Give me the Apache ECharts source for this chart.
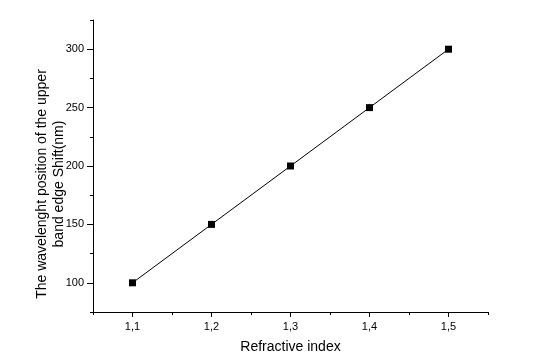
<!DOCTYPE html>
<html>
<head>
<meta charset="utf-8">
<script src="https://cdn.jsdelivr.net/npm/echarts@6/dist/echarts.min.js"></script>
<style>
html,body{margin:0;padding:0;background:#fff;}
#c{width:544px;height:360px;}
</style>
</head>
<body>
<div id="c"></div>
<script>
var refractiveIndex = [1.1, 1.2, 1.3, 1.4, 1.5];
var bandEdgeShift = [100, 150, 200, 250, 300];
var xMajorTicks = [1.1, 1.2, 1.3, 1.4, 1.5];
var xMinorTicks = [1.05, 1.15, 1.25, 1.35, 1.45, 1.55];
var yMajorTicks = [100, 150, 200, 250, 300];
var yMinorTicks = [75, 125, 175, 225, 275, 325];
var xTitle = 'Refractive index';
var yTitle = 'The wavelenght position of the upper\nband edge Shift(nm)';

var font = '"Liberation Sans", Arial, sans-serif';
var chart = echarts.init(document.getElementById('c'), null, {renderer: 'canvas'});
var pts = refractiveIndex.map(function (x, i) { return [x, bandEdgeShift[i]]; });

chart.setOption({
  animation: false,
  backgroundColor: '#ffffff',
  grid: {left: 93, right: 56, top: 20, bottom: 48, containLabel: false},
  xAxis: [{
    type: 'value', min: 1.05, max: 1.55, position: 'bottom',
    axisLine: {show: true, onZero: false, lineStyle: {color: '#000', width: 1}},
    axisTick: {show: true, inside: false, length: 5, customValues: xMajorTicks, lineStyle: {color: '#000', width: 1}},
    axisLabel: {show: true, customValues: xMajorTicks, margin: 9, color: '#000', fontSize: 11, fontFamily: font,
      formatter: function (v) { return (Math.round(v * 10) / 10).toFixed(1).replace('.', ','); }},
    splitLine: {show: false},
    name: xTitle, nameLocation: 'middle', nameGap: 28, nameMoveOverlap: false,
    nameTextStyle: {color: '#000', fontSize: 14, fontFamily: font}
  }, {
    type: 'value', min: 1.05, max: 1.55, position: 'bottom', gridIndex: 0,
    axisLine: {show: false, onZero: false},
    axisTick: {show: true, inside: false, length: 3, customValues: xMinorTicks, lineStyle: {color: '#000', width: 1}},
    axisLabel: {show: false},
    splitLine: {show: false}
  }],
  yAxis: [{
    type: 'value', min: 75, max: 325, position: 'left',
    axisLine: {show: true, onZero: false, lineStyle: {color: '#000', width: 1}},
    axisTick: {show: true, inside: false, length: 6, customValues: yMajorTicks, lineStyle: {color: '#000', width: 1}},
    axisLabel: {show: true, customValues: yMajorTicks, margin: 9, color: '#000', fontSize: 11, fontFamily: font},
    splitLine: {show: false},
    name: yTitle, nameLocation: 'middle', nameGap: 25, nameRotate: 90, nameMoveOverlap: false,
    nameTextStyle: {color: '#000', fontSize: 14, fontFamily: font, lineHeight: 17, align: 'center', padding: [0, 36, 0, 0]}
  }, {
    type: 'value', min: 75, max: 325, position: 'left', gridIndex: 0,
    axisLine: {show: false, onZero: false},
    axisTick: {show: true, inside: false, length: 3, customValues: yMinorTicks, lineStyle: {color: '#000', width: 1}},
    axisLabel: {show: false},
    splitLine: {show: false}
  }],
  series: [{
    type: 'line', xAxisIndex: 0, yAxisIndex: 0,
    data: pts,
    symbol: 'rect', symbolSize: 7,
    itemStyle: {color: '#000'},
    lineStyle: {color: '#000', width: 1},
    label: {show: false}
  }]
});
</script>
</body>
</html>
